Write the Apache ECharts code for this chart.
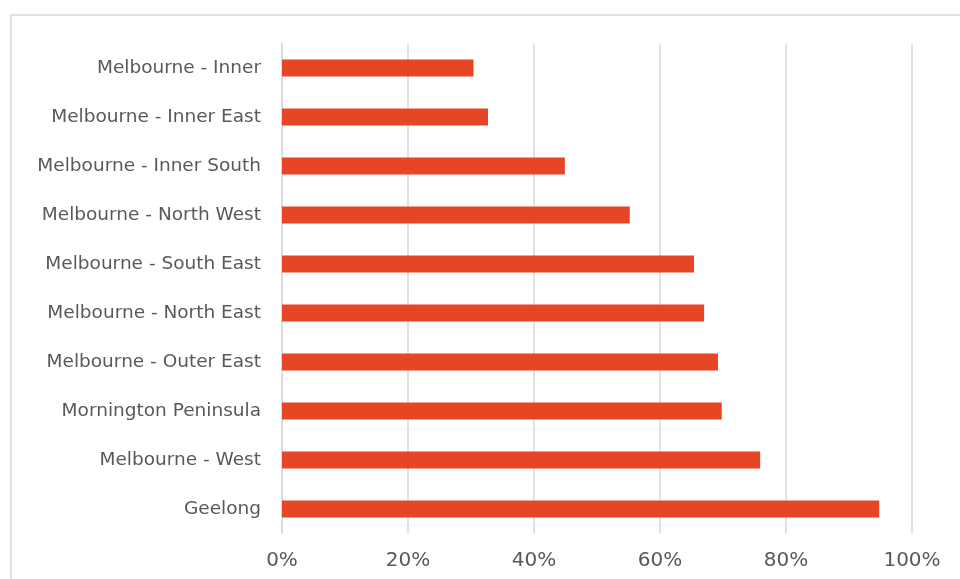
<!DOCTYPE html>
<html>
<head>
<meta charset="utf-8">
<script src="https://cdn.jsdelivr.net/npm/echarts@6/dist/echarts.min.js"></script>
<style>html,body{margin:0;padding:0;background:#fff;}#c{width:960px;height:579px;}</style>
</head>
<body>
<div id="c"></div>
<script>
var categories = ["Melbourne - Inner","Melbourne - Inner East","Melbourne - Inner South","Melbourne - North West","Melbourne - South East","Melbourne - North East","Melbourne - Outer East","Mornington Peninsula","Melbourne - West","Geelong"];
var values = [30.4, 32.7, 44.9, 55.2, 65.4, 67.0, 69.2, 69.8, 75.9, 94.8];
var xTicks = [0, 20, 40, 60, 80, 100];

var chart = echarts.init(document.getElementById('c'), null, {renderer: 'canvas'});
var font = '"DejaVu Sans", sans-serif';
chart.setOption({
  animation: false,
  graphic: [{type: 'rect', shape: {x: 11, y: 15, width: 1000, height: 700}, style: {fill: 'none', stroke: '#d9d9d9', lineWidth: 1.5}}],
  grid: {left: 282, right: 48, top: 43.5, bottom: 45.5, containLabel: false},
  xAxis: {
    type: 'value', min: xTicks[0], max: xTicks[xTicks.length - 1], interval: 20,
    axisLine: {show: false}, axisTick: {show: false},
    splitLine: {show: true, lineStyle: {color: '#d9d9d9', width: 1.5}},
    axisLabel: {formatter: '{value}%', color: '#595959', fontSize: 20, fontFamily: font, margin: 17}
  },
  yAxis: {
    type: 'category', data: categories, inverse: true,
    axisLine: {show: true, lineStyle: {color: '#d9d9d9', width: 1.5}}, axisTick: {show: false},
    axisLabel: {color: '#595959', fontSize: 18.5, fontFamily: font, margin: 21}
  },
  series: [{
    type: 'bar', data: values, barWidth: 17,
    itemStyle: {color: '#E64626'}
  }]
});
</script>
</body>
</html>
